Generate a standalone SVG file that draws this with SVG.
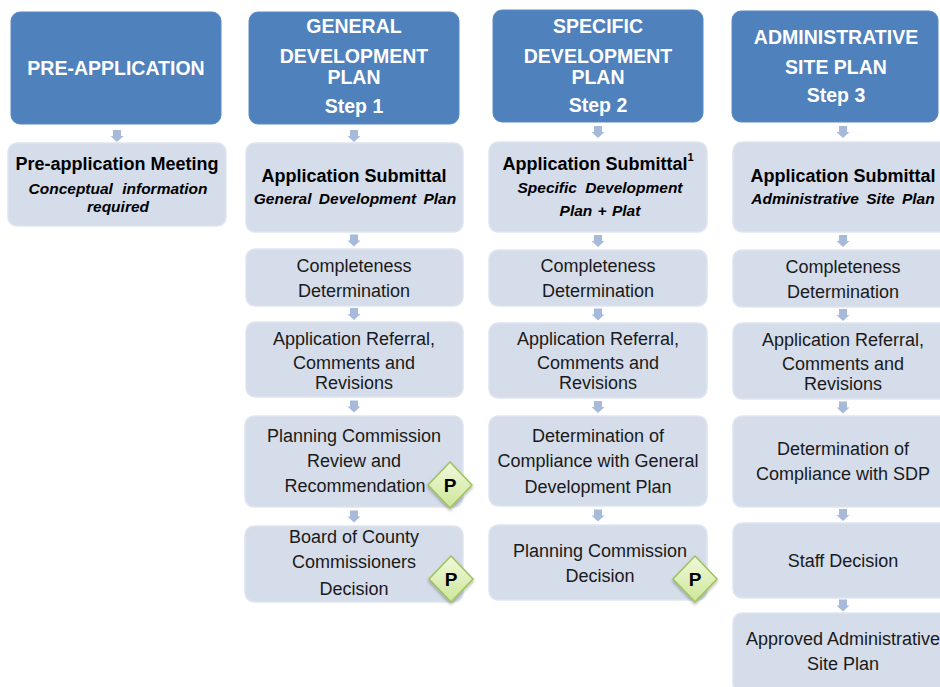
<svg xmlns="http://www.w3.org/2000/svg" width="940" height="687" viewBox="0 0 940 687">
<defs>
<style>
.hdr{fill:#4f81bd;stroke:#5a8ac3;stroke-width:1}
.box{fill:#d5dcea;stroke:#e0e5f0;stroke-width:1.5}
.ht{font-family:"Liberation Sans",Arial,sans-serif;font-weight:bold;font-size:19.5px;fill:#ffffff;text-anchor:middle}
.bt{font-family:"Liberation Sans",Arial,sans-serif;font-weight:bold;font-size:18px;fill:#000;text-anchor:middle}
.it{font-family:"Liberation Sans",Arial,sans-serif;font-weight:bold;font-style:italic;font-size:15.5px;fill:#000;text-anchor:middle}
.rt{font-family:"Liberation Sans",Arial,sans-serif;font-size:18px;fill:#1a1a1a;text-anchor:middle}
.pt{font-family:"Liberation Sans",Arial,sans-serif;font-weight:bold;font-size:19px;fill:#000;text-anchor:middle}
.arr{fill:#a8bada}
.dia{fill:url(#dg);stroke:#9fc25a;stroke-width:1.5;filter:url(#sh)}
</style>
<linearGradient id="dg" x1="0" y1="0" x2="0" y2="1">
<stop offset="0" stop-color="#f1f9dc"/>
<stop offset="1" stop-color="#cde69a"/>
</linearGradient>
<filter id="sh" x="-30%" y="-30%" width="160%" height="170%">
<feDropShadow dx="0" dy="2" stdDeviation="1.5" flood-color="#000" flood-opacity="0.3"/>
</filter>
<path id="ar" class="arr" d="M-4,0 H4 V6 H6.5 L0,12 L-6.5,6 H-4 Z"/>
</defs>

<g id="connectors">
<use href="#ar" x="117" y="130"/>
<use href="#ar" x="354" y="130"/>
<use href="#ar" x="354" y="234.5"/>
<use href="#ar" x="354" y="308"/>
<use href="#ar" x="354" y="400.5"/>
<use href="#ar" x="354" y="510.5"/>
<use href="#ar" x="598" y="126"/>
<use href="#ar" x="598" y="235"/>
<use href="#ar" x="598" y="308.5"/>
<use href="#ar" x="598" y="401"/>
<use href="#ar" x="598" y="509.5"/>
<use href="#ar" x="843" y="126"/>
<use href="#ar" x="843" y="235"/>
<use href="#ar" x="843" y="309"/>
<use href="#ar" x="843" y="401.5"/>
<use href="#ar" x="843" y="509"/>
<use href="#ar" x="843" y="599.5"/>
</g>

<g id="hdr-pre">
<rect class="hdr" x="11" y="12" width="210" height="112" rx="9"/>
<text class="ht" x="116" y="75">PRE-APPLICATION</text>
</g>
<g id="pre-meeting">
<rect class="box" x="8" y="143" width="218" height="83" rx="9"/>
<text class="bt" x="117" y="170">Pre-application Meeting</text>
<text class="it" x="118" y="194" word-spacing="5">Conceptual information</text>
<text class="it" x="118" y="212">required</text>
</g>

<g id="hdr-gdp">
<rect class="hdr" x="249" y="12" width="210" height="112" rx="9"/>
<text class="ht" x="354" y="33">GENERAL</text>
<text class="ht" x="354" y="63">DEVELOPMENT</text>
<text class="ht" x="354" y="84">PLAN</text>
<text class="ht" x="354" y="113">Step 1</text>
</g>
<g id="gdp-submittal">
<rect class="box" x="246" y="143" width="217" height="89" rx="9"/>
<text class="bt" x="354" y="182">Application Submittal</text>
<text class="it" x="355" y="204" word-spacing="3">General Development Plan</text>
</g>
<g id="gdp-completeness">
<rect class="box" x="246" y="249" width="217" height="57" rx="9"/>
<text class="rt" x="354" y="272">Completeness</text>
<text class="rt" x="354" y="297">Determination</text>
</g>
<g id="gdp-referral">
<rect class="box" x="246" y="322" width="217" height="75" rx="9"/>
<text class="rt" x="354" y="345">Application Referral,</text>
<text class="rt" x="354" y="369">Comments and</text>
<text class="rt" x="354" y="389">Revisions</text>
</g>
<g id="gdp-pc">
<rect class="box" x="245" y="416" width="218" height="91" rx="9"/>
<text class="rt" x="354" y="442">Planning Commission</text>
<text class="rt" x="354" y="467">Review and</text>
<text class="rt" x="355" y="492">Recommendation</text>
<polygon class="dia" points="450,462 472,485 450,508 428,485"/>
<text class="pt" x="450" y="492">P</text>
</g>
<g id="gdp-board">
<rect class="box" x="245" y="526" width="218" height="76" rx="9"/>
<text class="rt" x="354" y="543">Board of County</text>
<text class="rt" x="354" y="568">Commissioners</text>
<text class="rt" x="354" y="595">Decision</text>
<polygon class="dia" points="451,556 473,579 451,602 429,579"/>
<text class="pt" x="451" y="586">P</text>
</g>

<g id="hdr-sdp">
<rect class="hdr" x="493" y="10" width="210" height="112" rx="9"/>
<text class="ht" x="598" y="33">SPECIFIC</text>
<text class="ht" x="598" y="63">DEVELOPMENT</text>
<text class="ht" x="598" y="84">PLAN</text>
<text class="ht" x="598" y="112">Step 2</text>
</g>
<g id="sdp-submittal">
<rect class="box" x="489" y="142" width="218" height="90" rx="9"/>
<text class="bt" x="598" y="170">Application Submittal<tspan font-size="11" dy="-9">1</tspan></text>
<text class="it" x="600" y="193" word-spacing="4">Specific Development</text>
<text class="it" x="600" y="216" word-spacing="1">Plan + Plat</text>
</g>
<g id="sdp-completeness">
<rect class="box" x="489" y="250" width="218" height="56" rx="9"/>
<text class="rt" x="598" y="272">Completeness</text>
<text class="rt" x="598" y="297">Determination</text>
</g>
<g id="sdp-referral">
<rect class="box" x="489" y="323" width="218" height="75" rx="9"/>
<text class="rt" x="598" y="345">Application Referral,</text>
<text class="rt" x="598" y="369">Comments and</text>
<text class="rt" x="598" y="389">Revisions</text>
</g>
<g id="sdp-compliance">
<rect class="box" x="489" y="416" width="218" height="90" rx="9"/>
<text class="rt" x="598" y="442">Determination of</text>
<text class="rt" x="598" y="467">Compliance with General</text>
<text class="rt" x="598" y="493">Development Plan</text>
</g>
<g id="sdp-pc">
<rect class="box" x="489" y="525" width="218" height="75" rx="9"/>
<text class="rt" x="600" y="557">Planning Commission</text>
<text class="rt" x="600" y="582">Decision</text>
<polygon class="dia" points="695,556 717,579 695,602 673,579"/>
<text class="pt" x="695" y="586">P</text>
</g>

<g id="hdr-asp">
<rect class="hdr" x="732" y="11" width="206" height="111" rx="9"/>
<text class="ht" x="836" y="44">ADMINISTRATIVE</text>
<text class="ht" x="836" y="74">SITE PLAN</text>
<text class="ht" x="836" y="102">Step 3</text>
</g>
<g id="asp-submittal">
<rect class="box" x="733" y="142" width="220" height="90" rx="9"/>
<text class="bt" x="843" y="182">Application Submittal</text>
<text class="it" x="843" y="204" word-spacing="3">Administrative Site Plan</text>
</g>
<g id="asp-completeness">
<rect class="box" x="733" y="250" width="220" height="57" rx="9"/>
<text class="rt" x="843" y="273">Completeness</text>
<text class="rt" x="843" y="298">Determination</text>
</g>
<g id="asp-referral">
<rect class="box" x="733" y="323" width="220" height="76" rx="9"/>
<text class="rt" x="843" y="346">Application Referral,</text>
<text class="rt" x="843" y="370">Comments and</text>
<text class="rt" x="843" y="390">Revisions</text>
</g>
<g id="asp-compliance">
<rect class="box" x="733" y="416" width="220" height="91" rx="9"/>
<text class="rt" x="843" y="455">Determination of</text>
<text class="rt" x="843" y="480">Compliance with SDP</text>
</g>
<g id="asp-staff">
<rect class="box" x="733" y="523" width="220" height="75" rx="9"/>
<text class="rt" x="843" y="567">Staff Decision</text>
</g>
<g id="asp-approved">
<rect class="box" x="733" y="613" width="220" height="80" rx="9"/>
<text class="rt" x="843" y="645">Approved Administrative</text>
<text class="rt" x="843" y="670">Site Plan</text>
</g>
</svg>
